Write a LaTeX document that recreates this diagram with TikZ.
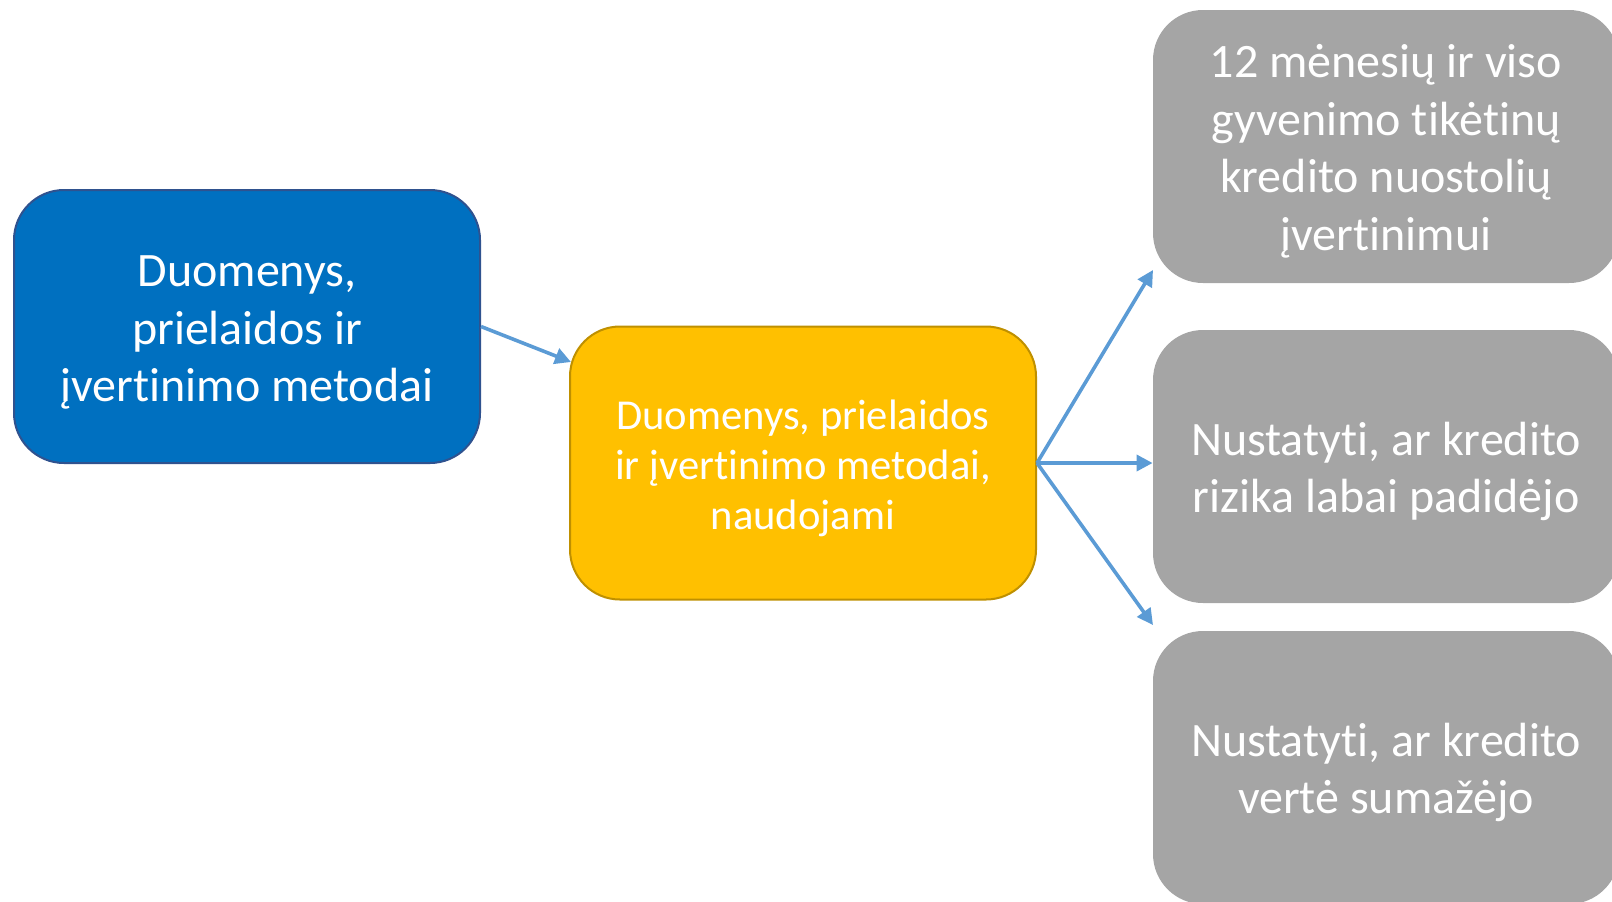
\documentclass[tikz,border=0pt]{standalone}
\usepackage{fontspec}
\setmainfont{Carlito}[Ligatures=NoCommon]
\usetikzlibrary{arrows.meta}
\definecolor{cblue}{HTML}{0070C0}
\definecolor{cblueline}{HTML}{2F528F}
\definecolor{cyellow}{HTML}{FFC000}
\definecolor{cyellowline}{HTML}{BF9000}
\definecolor{cgray}{HTML}{A5A5A5}
\definecolor{carrow}{HTML}{5B9BD5}
\newcommand\celltext[1]{\raisebox{0pt}[\dimexpr\height+6pt\relax]{\begin{tabular}{@{}c@{}}#1\end{tabular}}}
\tikzset{
  box/.style={rounded corners=25pt, minimum width=233pt, minimum height=136.5pt,
    text=white, inner sep=0pt},
  bigtext/.style={font=\fontsize{24}{28.8}\selectfont},
  smalltext/.style={font=\fontsize{21.3}{25}\selectfont},
  conn/.style={draw=carrow, line width=1.8pt, -{Triangle[length=8pt,width=8pt]}}
}
\begin{document}
\begin{tikzpicture}[x=0.5pt,y=-0.5pt]
\useasboundingbox (0,0) rectangle (1612,901);
\node[box, bigtext, fill=cblue, draw=cblueline, line width=1pt] (blue) at (247,326.5)
  {\celltext{Duomenys,\\prielaidos ir\\įvertinimo metodai}};
\node[box, smalltext, fill=cyellow, draw=cyellowline, line width=1pt] (yellow) at (803,463)
  {\celltext{Duomenys, prielaidos\\ir įvertinimo metodai,\\naudojami}};
\node[box, bigtext, fill=cgray] (g1) at (1386,146.5)
  {\celltext{12 mėnesių ir viso\\gyvenimo tikėtinų\\kredito nuostolių\\įvertinimui}};
\node[box, bigtext, fill=cgray] (g2) at (1386,466.5)
  {\celltext{Nustatyti, ar kredito\\rizika labai padidėjo}};
\node[box, bigtext, fill=cgray] (g3) at (1386,767.5)
  {\celltext{Nustatyti, ar kredito\\vertė sumažėjo}};
\coordinate (yin) at (571,362);
\coordinate (g1in) at (1153,270);
\coordinate (g3in) at (1153,625);
\draw[conn] (blue.east) -- (yin);
\draw[conn] (yellow.east) -- (yellow.east -| g2.west);
\draw[conn] (yellow.east) -- (g1in);
\draw[conn] (yellow.east) -- (g3in);
\end{tikzpicture}
\end{document}
